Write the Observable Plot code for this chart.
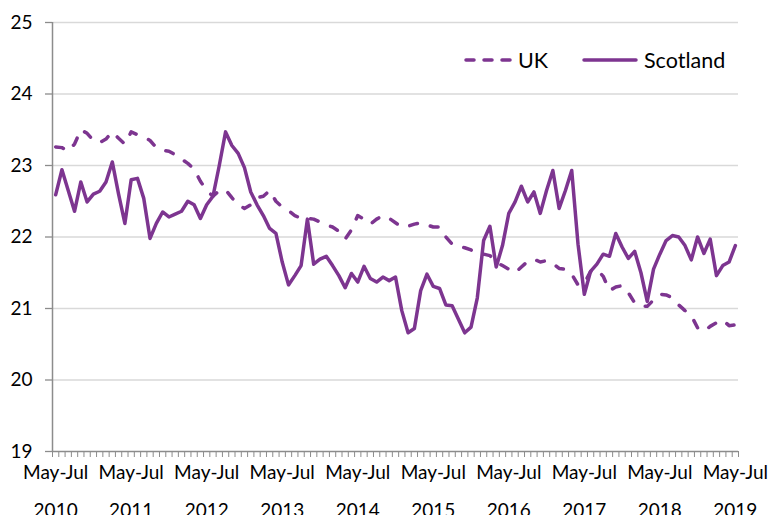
<!DOCTYPE html>
<html>
<head>
<meta charset="utf-8">
<script src="https://cdn.jsdelivr.net/npm/d3@7"></script>
<script src="https://cdn.jsdelivr.net/npm/@observablehq/plot@0.6"></script>
<style>
  html, body { margin: 0; padding: 0; background: #fff; }
  #wrap { position: relative; width: 771px; height: 515px; overflow: hidden; font-family: Lato, "Open Sans", sans-serif; }
  .leg { position: absolute; top: 48px; height: 24px; display: flex; align-items: center; font-size: 21.5px; color: #000; white-space: nowrap; }
  .leg svg { display: block; }
</style>
</head>
<body>
<div id="wrap">
  <div id="chart"></div>
</div>
<script>
// Rolling quarters May-Jul 2010 ... May-Jul 2019 (109 periods)
const tickPeriod = "May-Jul";
const tickYears = [2010, 2011, 2012, 2013, 2014, 2015, 2016, 2017, 2018, 2019];
const yTicks = [19, 20, 21, 22, 23, 24, 25];

const ukValues = [
  23.26, 23.25, 23.20, 23.30, 23.50, 23.45, 23.35, 23.32, 23.37, 23.47,
  23.38, 23.30, 23.47, 23.43, 23.40, 23.35, 23.25, 23.21, 23.20, 23.15,
  23.09, 23.03, 22.95, 22.78, 22.65, 22.57, 22.65, 22.66, 22.55, 22.45,
  22.40, 22.45, 22.55, 22.57, 22.65, 22.50, 22.42, 22.37, 22.30, 22.26,
  22.26, 22.25, 22.21, 22.17, 22.14, 22.08, 21.97, 22.10, 22.30, 22.25,
  22.18, 22.25, 22.30, 22.26, 22.20, 22.14, 22.15, 22.18, 22.20, 22.17,
  22.14, 22.14, 22.00, 21.90, 21.86, 21.85, 21.82, 21.75, 21.76, 21.74,
  21.65, 21.60, 21.55, 21.50, 21.58, 21.66, 21.69, 21.65, 21.67, 21.63,
  21.56, 21.55, 21.48, 21.33, 21.35, 21.52, 21.55, 21.45, 21.25, 21.30,
  21.32, 21.22, 21.08, 21.03, 21.03, 21.12, 21.20, 21.19, 21.15, 21.05,
  20.97, 20.90, 20.73, 20.68, 20.75, 20.80, 20.84, 20.76, 20.77
];

const scotlandValues = [
  22.59, 22.94, 22.65, 22.36, 22.77, 22.49, 22.60, 22.64, 22.77, 23.05,
  22.60, 22.19, 22.80, 22.82, 22.54, 21.98, 22.19, 22.35, 22.28, 22.32,
  22.36, 22.50, 22.45, 22.26, 22.45, 22.57, 23.00, 23.47, 23.28, 23.17,
  22.97, 22.63, 22.45, 22.30, 22.12, 22.05, 21.65, 21.33, 21.46, 21.60,
  22.25, 21.62, 21.69, 21.73, 21.60, 21.46, 21.29, 21.49, 21.37, 21.59,
  21.42, 21.37, 21.44, 21.39, 21.44, 20.97, 20.66, 20.72, 21.25, 21.48,
  21.31, 21.28, 21.05, 21.04, 20.85, 20.66, 20.74, 21.15, 21.95, 22.15,
  21.58, 21.88, 22.33, 22.49, 22.71, 22.49, 22.63, 22.33, 22.65, 22.93,
  22.40, 22.65, 22.93, 21.90, 21.20, 21.52, 21.62, 21.76, 21.73, 22.05,
  21.86, 21.70, 21.80, 21.50, 21.10, 21.55, 21.76, 21.95, 22.02, 22.00,
  21.88, 21.68, 22.00, 21.77, 21.97, 21.46, 21.60, 21.65, 21.88
];

const seriesNames = ["UK", "Scotland"];
const purple = "#7d3590";
const gridColor = "#d9d9d9";
const axisColor = "#8c8c8c";
const font = "Lato, 'Open Sans', sans-serif";

const n = scotlandValues.length;
const ukRows = ukValues.map((v, i) => ({i, value: v}));
const scoRows = scotlandValues.map((v, i) => ({i, value: v}));
const boundaries = d3.range(n + 1).map(k => k - 0.5);
const labelRows = tickYears.map((yr, k) => ({i: k * 12, text: `${tickPeriod}\n${yr}`}));

const chart = Plot.plot({
  width: 771,
  height: 515,
  marginLeft: 52,
  marginRight: 33,
  marginTop: 22,
  marginBottom: 64,
  style: {fontFamily: font, background: "#fff", color: "#000"},
  x: {type: "linear", domain: [-0.5, n - 0.5], axis: null},
  y: {domain: [19, 25], axis: null},
  marks: [
    Plot.ruleY(yTicks.filter(t => t > 19), {stroke: gridColor, strokeWidth: 1.6}),
    Plot.axisY({ticks: yTicks, label: null, tickSize: 7, tickPadding: 13, stroke: axisColor, strokeWidth: 1.3, fontSize: 19, fill: "#000", tickFormat: d => String(d)}),
    Plot.axisX({ticks: boundaries, label: null, tickSize: 6, stroke: axisColor, strokeWidth: 1, tickFormat: () => "", anchor: "bottom"}),
    Plot.ruleY([19], {stroke: axisColor, strokeWidth: 1.5}),
    Plot.ruleX([-0.5], {stroke: axisColor, strokeWidth: 1.5}),
    Plot.text(labelRows, {x: "i", y: () => 19, text: "text", dy: 1.7, lineAnchor: "top", lineHeight: 1.95, fontSize: 19, fill: "#000"}),
    Plot.line(ukRows, {x: "i", y: "value", stroke: purple, strokeWidth: 3.5, strokeDasharray: "8,13.5", strokeLinecap: "round", strokeLinejoin: "round"}),
    Plot.line(scoRows, {x: "i", y: "value", stroke: purple, strokeWidth: 3.5, strokeLinecap: "round", strokeLinejoin: "round"})
  ]
});
document.getElementById("chart").appendChild(chart);

// Legend (inside plot area, top right)
const wrap = document.getElementById("wrap");
const legendLefts = [463, 581];
seriesNames.forEach((name, k) => {
  const item = document.createElement("div");
  item.className = "leg";
  item.style.left = legendLefts[k] + "px";
  const dash = k === 0 ? 'stroke-dasharray="8,10"' : "";
  const w = k === 0 ? 50 : 58;
  item.innerHTML = `<svg width="${w}" height="12"><line x1="3" y1="6" x2="${w - 3}" y2="6" stroke="${purple}" stroke-width="3.5" stroke-linecap="round" ${dash}/></svg><span style="margin-left:5px">${name}</span>`;
  wrap.appendChild(item);
});
</script>
</body>
</html>
